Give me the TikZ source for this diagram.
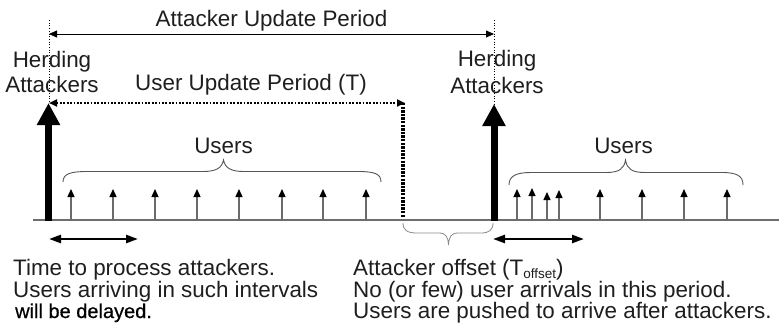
\documentclass[tikz,border=0pt]{standalone}
\usepackage{fontspec}
\setmainfont{Liberation Sans}
\newfontfamily\semibold[FakeBold=0.6]{Liberation Sans}
\usetikzlibrary{arrows.meta}
\definecolor{txt}{HTML}{1E1E1E}
\definecolor{axis}{HTML}{6E6E6E}
\definecolor{ugray}{HTML}{6A6A6A}
\definecolor{brc}{HTML}{555555}
\definecolor{brc2}{HTML}{8A8A8A}
\begin{document}
\begin{tikzpicture}[x=1pt,y=-1pt,
 lbl/.style={inner sep=0pt, text=txt, font=\fontsize{22.4}{25}\selectfont, anchor=base},
 lbll/.style={inner sep=0pt, text=txt, font=\fontsize{22.4}{25}\selectfont, anchor=base west},
 bigarrow/.style={line width=7pt, -{Triangle[width=22pt,length=22pt]}},
 userarrow/.style={line width=1.3pt, draw=ugray, -{Triangle[width=7pt,length=8pt,color=black]}},
 guide/.style={line width=0.7pt, dotted},
 period/.style={line width=0.8pt, {Triangle[width=7pt,length=8pt]}-{Triangle[width=7pt,length=8pt]}},
 dotperiod/.style={line width=2pt, dash pattern=on 1.8pt off 1.6pt, {Triangle[width=7pt,length=8pt]}-{Triangle[width=7pt,length=8pt]}},
 thickdots/.style={line width=3.5pt, dash pattern=on 2.3pt off 1.3pt},
 dblarrow/.style={line width=2.5pt, {Triangle[width=8pt,length=12pt]}-{Triangle[width=8pt,length=12pt]}},
 bracestyle/.style={line width=0.9pt, draw=brc},
]
\useasboundingbox (0,0) rectangle (779,330);

% coordinates
\coordinate (axL) at (33,220); \coordinate (axR) at (779,220);
\coordinate (a1b) at (48.5,221); \coordinate (a1t) at (48.5,103);
\coordinate (a2b) at (494,221); \coordinate (a2t) at (494,104);
\coordinate (g1t) at (49,20); \coordinate (g1b) at (49,103);
\coordinate (g2t) at (494,20); \coordinate (g2b) at (494,104);
\coordinate (p1L) at (49,34); \coordinate (p1R) at (494,34);
\coordinate (p2L) at (49,103); \coordinate (p2R) at (405,103);
\coordinate (vt) at (403,103); \coordinate (vb) at (403,218);
\coordinate (d1L) at (49,239); \coordinate (d1R) at (138,239);
\coordinate (d2L) at (493,239); \coordinate (d2R) at (584,239);

% timeline
\draw[line width=1.5pt, draw=axis] (axL) -- (axR);

% guides and periods
\draw[guide] (g1t) -- (g1b);
\draw[guide] (g2t) -- (g2b);
\draw[period] (p1L) -- (p1R);
\draw[dotperiod] (p2L) -- (p2R);
\draw[thickdots] (vt) -- (vb);

% herding attackers
\draw[bigarrow] (a1b) -- (a1t);
\draw[bigarrow] (a2b) -- (a2t);

% users left
\foreach \x [count=\i] in {71,113,155,197,239,282,323,366}{
  \coordinate (ub\i) at (\x,220); \coordinate (ut\i) at (\x,189);
  \draw[userarrow] (ub\i) -- (ut\i);
}
% users right
\foreach \x/\t [count=\i] in {517/189,532/188,547/192,559/190,600/189,642/189,684/189,727/189}{
  \coordinate (vb\i) at (\x,220); \coordinate (vt\i) at (\x,\t);
  \draw[userarrow] (vb\i) -- (vt\i);
}

% braces
\draw[bracestyle] (63,182) .. controls (63,174) and (70,171.5) .. (87,171.5)
  -- (203,171.5) .. controls (216,171.5) and (222,168) .. (223.5,160)
  .. controls (225,168) and (231,171.5) .. (244,171.5)
  -- (358,171.5) .. controls (375,171.5) and (381,174) .. (381,182);
\draw[bracestyle] (509,185) .. controls (509,176) and (516,172.5) .. (531,172.5)
  -- (606,172.5) .. controls (619,172.5) and (624,169) .. (625.5,160)
  .. controls (627,169) and (632,172.5) .. (645,172.5)
  -- (722,172.5) .. controls (737,172.5) and (743,176) .. (743,185);
\draw[line width=0.8pt, draw=brc2] (403,223) .. controls (403,230) and (407,233) .. (417,233)
  -- (439,233) .. controls (446,233) and (448,237) .. (448.5,245)
  .. controls (449,237) and (451,233) .. (458,233)
  -- (481,233) .. controls (489,233) and (493,230) .. (493,223);

% double arrows
\draw[dblarrow] (d1L) -- (d1R);
\draw[dblarrow] (d2L) -- (d2R);

% labels
\node[lbl] (taup) at (271.5,26) {Attacker Update Period};
\node[lbl] (th1) at (52,67) {Herding};
\node[lbl] (ta1) at (52,92) {Attackers};
\node[lbl] (th2) at (497,66) {Herding};
\node[lbl] (ta2) at (497,93) {Attackers};
\node[lbl] (tuup) at (251,90) {User Update Period (T)};
\node[lbl] (tu1) at (223.5,153) {Users};
\node[lbl] (tu2) at (623.5,153) {Users};

\node[lbll] (bl1) at (13,275) {Time to process attackers.};
\node[lbll] (bl2) at (13,297) {Users arriving in such intervals};
\node[inner sep=0pt, anchor=base west, text=black, font=\semibold\fontsize{20}{22}\selectfont] (bl3) at (15,318) {will be delayed.};

\node[lbll] (br1) at (353,275) {Attacker offset (T\raisebox{-3pt}{\fontsize{13.5}{14}\selectfont offset})};
\node[lbll] (br2) at (353,297) {No (or few) user arrivals in this period.};
\node[lbll] (br3) at (353,318) {Users are pushed to arrive after attackers.};
\end{tikzpicture}
\end{document}
